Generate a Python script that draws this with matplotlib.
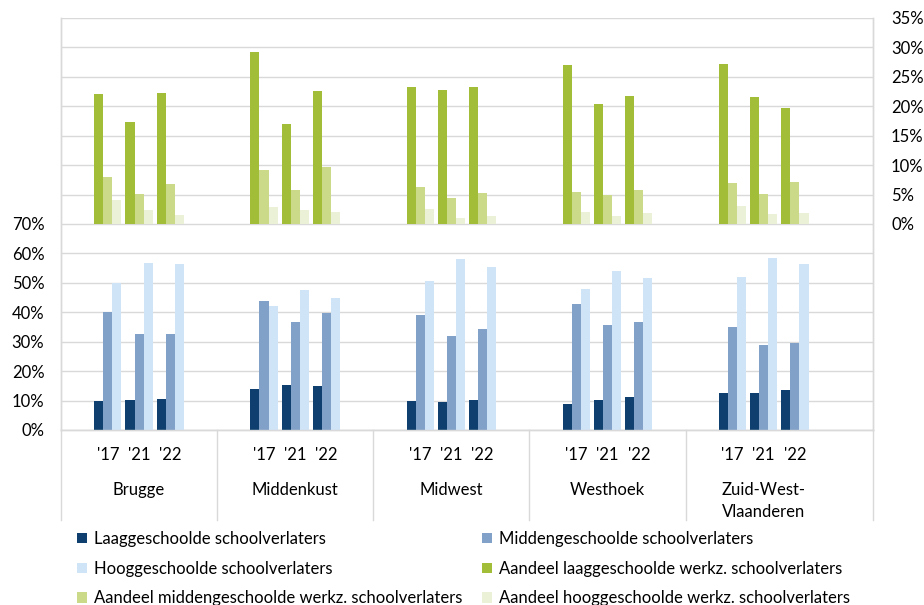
import matplotlib
matplotlib.use("Agg")
import matplotlib.pyplot as plt
import matplotlib.transforms as mtransforms

plt.rcParams['font.family'] = ['Lato', 'DejaVu Sans']

regions = ["Brugge", "Middenkust", "Midwest", "Westhoek", "Zuid-West-\nVlaanderen"]
years = ["'17", "'21", "'22"]

# Bottom panel (left axis, %)
laag = [10.0, 10.3, 10.6, 13.9, 15.4, 15.1, 10.0, 9.5, 10.1, 8.8, 10.2, 11.2, 12.6, 12.7, 13.6]
midden = [40.0, 32.6, 32.6, 43.7, 36.7, 39.9, 39.0, 32.1, 34.2, 42.7, 35.6, 36.7, 34.9, 28.8, 29.5]
hoog = [49.8, 56.7, 56.4, 42.1, 47.6, 44.9, 50.8, 58.0, 55.4, 48.0, 53.9, 51.6, 52.0, 58.3, 56.5]

# Top panel (right axis, %)
aand_laag = [22.1, 17.3, 22.3, 29.3, 17.0, 22.6, 23.2, 22.8, 23.3, 27.0, 20.4, 21.7, 27.2, 21.5, 19.7]
aand_midden = [8.0, 5.1, 6.8, 9.2, 5.8, 9.7, 6.3, 4.5, 5.3, 5.4, 5.0, 5.7, 7.0, 5.1, 7.2]
aand_hoog = [4.1, 2.3, 1.6, 2.9, 2.4, 2.1, 2.5, 1.0, 1.4, 2.0, 1.3, 1.8, 3.0, 1.7, 1.9]

labels = ["Laaggeschoolde schoolverlaters", "Middengeschoolde schoolverlaters",
          "Hooggeschoolde schoolverlaters", "Aandeel laaggeschoolde werkz. schoolverlaters",
          "Aandeel middengeschoolde werkz. schoolverlaters", "Aandeel hooggeschoolde werkz. schoolverlaters"]
colors = ["#0F3F6E", "#82A1C8", "#D0E4F7", "#A2BE38", "#CBDA88", "#EBF1D6"]

FS = 12

fig = plt.figure(figsize=(9.24, 6.05), dpi=100)
ax = fig.add_axes([61/924, 1-430/605, (873-61)/924, (430-18)/605])
ax2 = ax.twinx()

xs = [g*5 + 1 + j for g in range(len(regions)) for j in range(len(years))]
w = 0.29
offs = [-w, 0, w]

handles = []
for vals, c, o, lab in zip([laag, midden, hoog], colors[:3], offs, labels[:3]):
    h = ax.bar([x + o for x in xs], vals, width=w, color=c, label=lab, zorder=3)
    handles.append(h)
for vals, c, o, lab in zip([aand_laag, aand_midden, aand_hoog], colors[3:], offs, labels[3:]):
    h = ax2.bar([x + o for x in xs], vals, width=w, color=c, label=lab, zorder=3)
    handles.append(h)

ax.set_xlim(-0.5, 25.5)
ax.set_ylim(0, 140)
ax2.set_ylim(-35, 35)
ax.set_yticks(range(0, 141, 10))
ax.set_yticklabels([f"{v}%" if v <= 70 else "" for v in range(0, 141, 10)])
ax2.set_yticks(range(0, 36, 5))
ax2.set_yticklabels([f"{v}%" for v in range(0, 36, 5)])
ax.grid(axis='y', color="#D9D9D9", linewidth=1.0, zorder=0)
ax.set_axisbelow(True)
ax.set_xticks([])
ax.tick_params(axis='y', length=0, pad=12, labelsize=FS, labelcolor="#000000")
ax2.tick_params(axis='y', length=0, pad=13, labelsize=FS, labelcolor="#000000")

for a in (ax, ax2):
    for s in a.spines.values():
        s.set_color("#D9D9D9")
        s.set_linewidth(1.0)
    a.spines['top'].set_visible(False)

trans = mtransforms.blended_transform_factory(ax.transData, ax.transAxes)
for x, yl in zip(xs, years * len(regions)):
    ax.text(x, -25/412, yl, transform=trans, ha='center', va='center', fontsize=FS)
for g, r in enumerate(regions):
    if "\n" in r:
        ax.text(g*5 + 2, -(60+11)/412, r, transform=trans, ha='center', va='center',
                fontsize=FS, linespacing=1.45)
    else:
        ax.text(g*5 + 2, -60/412, r, transform=trans, ha='center', va='center', fontsize=FS)
for xd in [-0.5, 4.5, 9.5, 14.5, 19.5, 25.5]:
    ax.plot([xd, xd], [0, -90/412], transform=trans, color="#D9D9D9", linewidth=1.0, clip_on=False)

order = [0, 2, 4, 1, 3, 5]
fig.legend([handles[i] for i in order], [labels[i] for i in order], ncol=2,
           loc='upper left', bbox_to_anchor=(77/924, 1-531/605), frameon=False,
           fontsize=FS, handlelength=0.6, handleheight=0.6, handletextpad=0.4,
           columnspacing=1.2, labelspacing=0.82, borderaxespad=0, borderpad=0)

fig.savefig("out.png", dpi=100)
